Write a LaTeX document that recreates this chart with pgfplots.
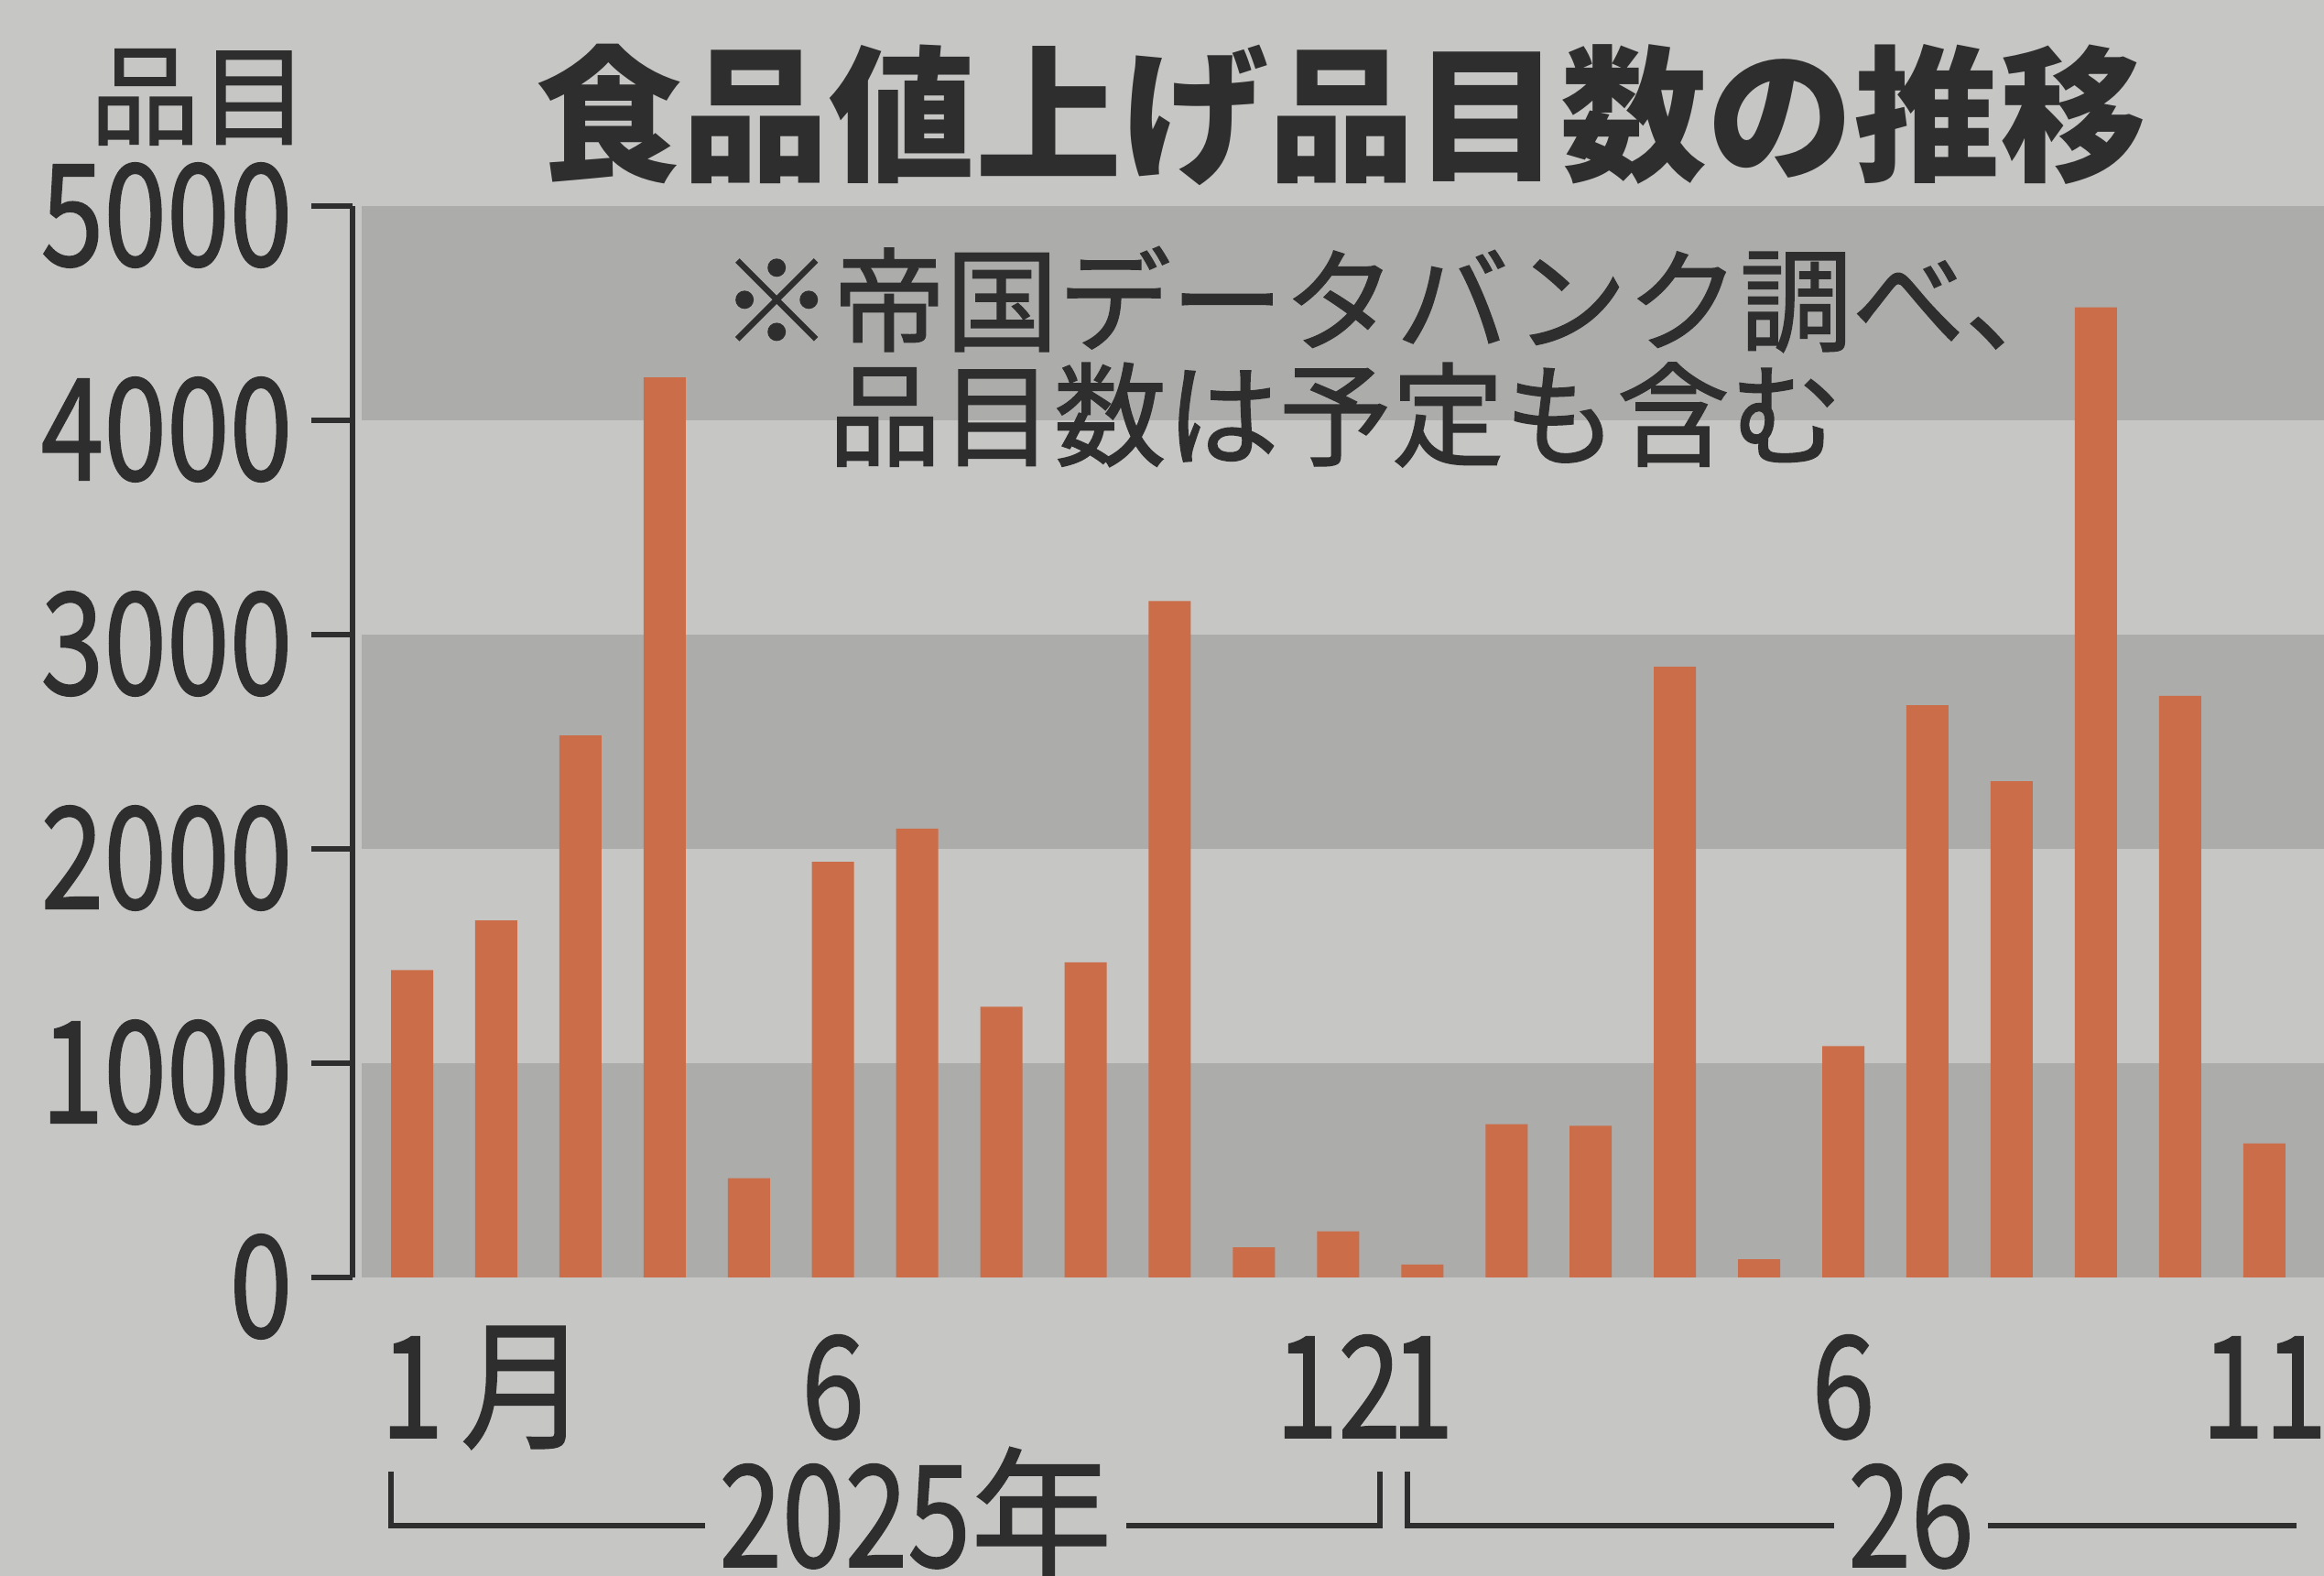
\documentclass[border=0pt]{standalone}
\usepackage{fontspec}
\usepackage{pgfplots}
\pgfplotsset{compat=1.18}
\setmainfont{Noto Sans CJK JP}
\newfontfamily\medf[FakeBold=1.2]{Noto Sans CJK JP}
\definecolor{paper}{HTML}{C6C6C4}
\definecolor{band}{HTML}{ACACAA}
\definecolor{barc}{HTML}{CB6D48}
\definecolor{ink}{HTML}{2E2E2E}
\newcommand{\cn}[1]{\scalebox{0.8}[1]{#1}}
\newcommand{\bigfnt}{\medf\fontsize{44}{44}\selectfont}
\begin{document}
\begin{tikzpicture}[x=1cm,y=1cm]
\fill[paper] (0,0) rectangle (25.38,17.21);
\begin{axis}[
  at={(3.85cm,3.26cm)}, anchor=south west,
  scale only axis, width=21.53cm, height=11.70cm,
  xmin=0.293, xmax=23.71, ymin=0, ymax=5000,
  axis lines*=left,
  separate axis lines,
  x axis line style={draw=none},
  y axis line style={ink, line width=1.8pt},
  tick align=outside,
  major tick length=0.45cm,
  ytick={0,1000,2000,3000,4000,5000},
  yticklabels={\cn{0},\cn{1000},\cn{2000},\cn{3000},\cn{4000},\cn{5000}},
  ytick style={ink, line width=1.8pt},
  xtick={1,6,12,13,18,23},
  xticklabels={{\cn{1}\rlap{\hspace{0.12em}\scalebox{0.9}[1]{月}}},\cn{6},\cn{12},\cn{1},\cn{6},\cn{11}},
  xtick style={draw=none},
  yticklabel style={font=\bigfnt, text=ink, anchor=east, inner sep=0pt, xshift=-0.2cm, yshift=-0.1cm},
  xticklabel style={font=\bigfnt, text=ink, anchor=base, inner sep=0pt, yshift=-1.30cm},
  ybar, bar width=0.46cm, bar shift=0pt,
  clip=false,
  axis on top,
]
\fill[band] (axis cs:0.40,0) rectangle (axis cs:23.71,1000);
\fill[band] (axis cs:0.40,2000) rectangle (axis cs:23.71,3000);
\fill[band] (axis cs:0.40,4000) rectangle (axis cs:23.71,5000);
\addplot[fill=barc, draw=none] coordinates {
 (1,1434) (2,1666) (3,2529) (4,4200) (5,463) (6,1940) (7,2094) (8,1263)
 (9,1471) (10,3157) (11,140) (12,215)
 (13,60) (14,715) (15,708) (16,2850) (17,85) (18,1080) (19,2670) (20,2316)
 (21,4527) (22,2714) (23,625)
};
\end{axis}
\draw[ink, line width=1.8pt] (4.27,1.14) -- (4.27,0.55) -- (15.07,0.55) -- (15.07,1.14);
\draw[ink, line width=1.8pt] (15.37,1.14) -- (15.37,0.55) -- (25.08,0.55);
\node[anchor=base, fill=paper, inner xsep=0.15cm, inner ysep=0pt, text depth=0pt, text=ink, font=\bigfnt] at (10.0,0.10) {\cn{2025}年};
\node[anchor=base, fill=paper, inner xsep=0.15cm, inner ysep=0pt, text depth=0pt, text=ink, font=\bigfnt] at (20.87,0.10) {\cn{26}};
\node[text=ink, font=\fontsize{45.5}{45.5}\selectfont\bfseries] at (14.65,15.96) {食品値上げ品目数の推移};
\node[text=ink, font=\medf\fontsize{34}{34}\selectfont] at (2.18,16.15) {品目};
\node[anchor=west, inner sep=0pt, text=ink, font=\medf\fontsize{35}{35}\selectfont] at (7.86,13.94) {※帝国データバンク調べ、};
\node[anchor=west, inner sep=0pt, text=ink, font=\medf\fontsize{35}{35}\selectfont] at (9.04,12.68) {品目数は予定も含む};
\pgfresetboundingbox
\useasboundingbox (0,0) rectangle (25.38,17.21);
\end{tikzpicture}
\end{document}
